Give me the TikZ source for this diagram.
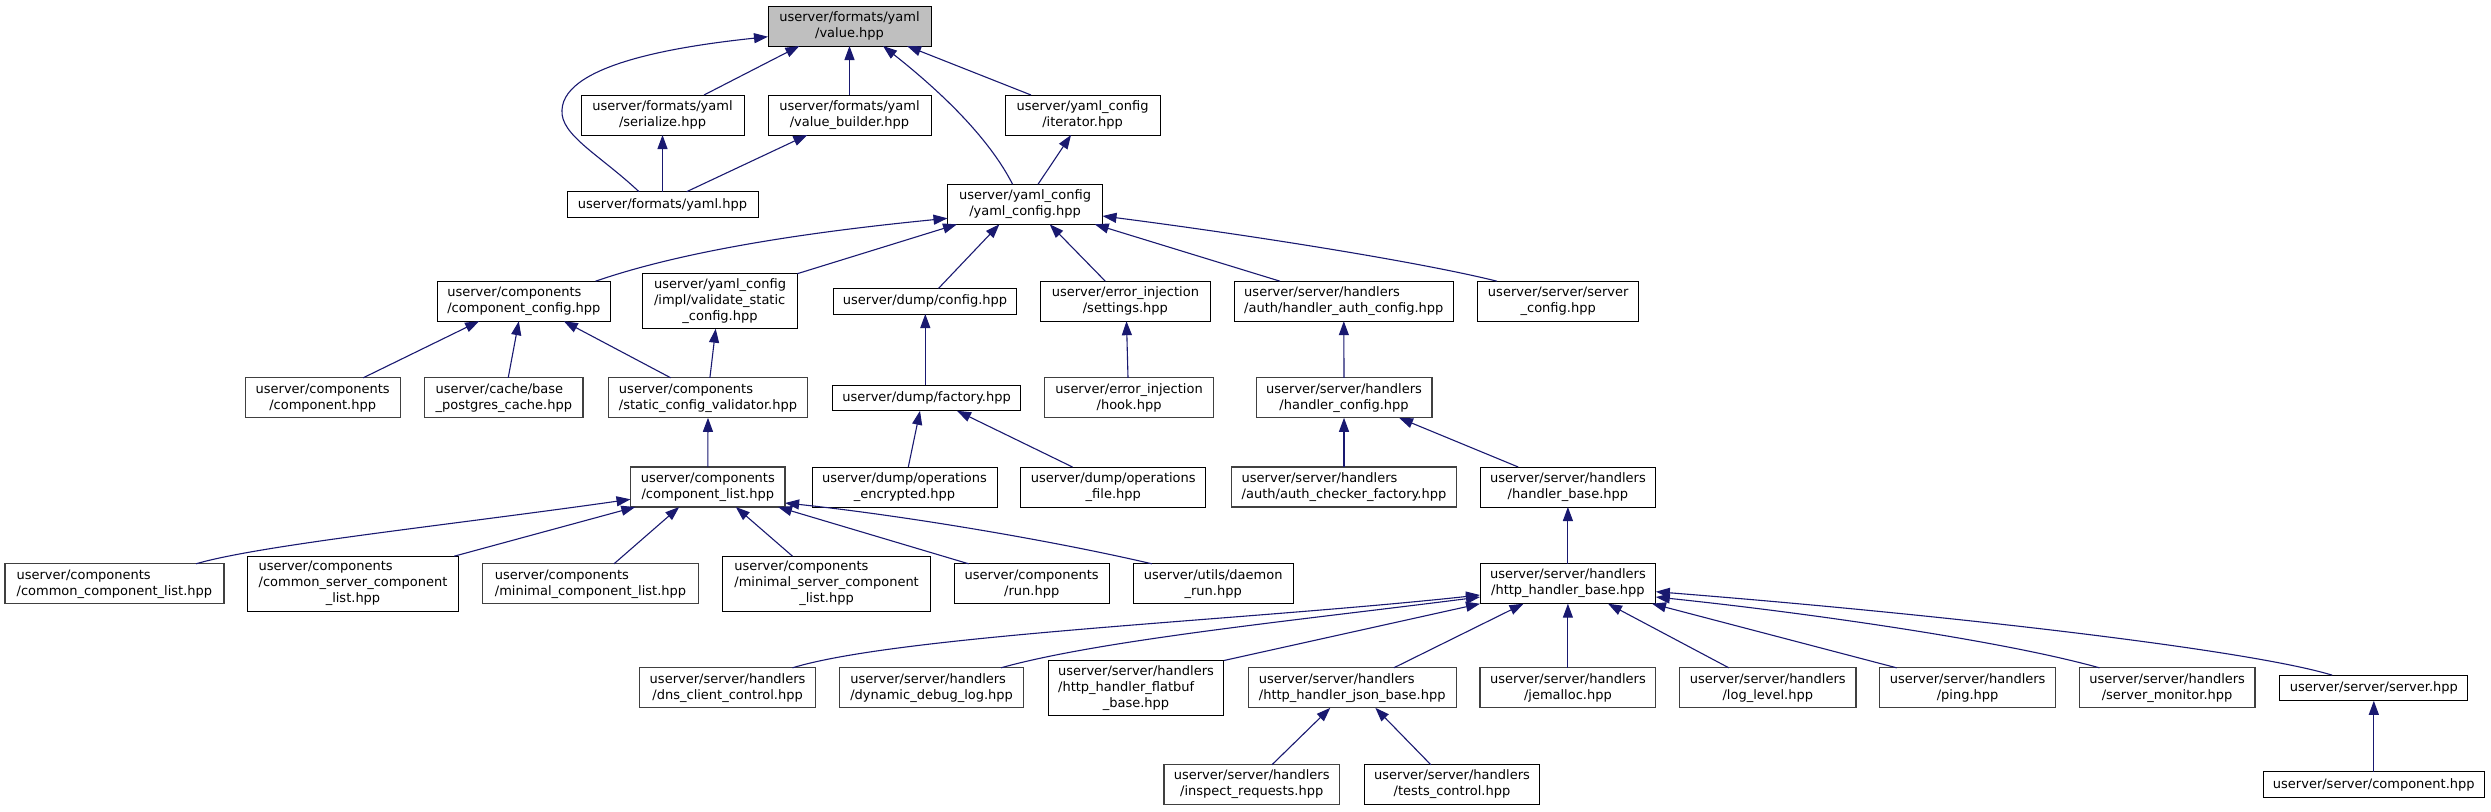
\documentclass[tikz,border=0pt]{standalone}
\usepackage{fontspec}
\setmainfont{DejaVu Sans}
\usetikzlibrary{arrows.meta}
\definecolor{edgeblue}{HTML}{191970}
\definecolor{nodegray}{HTML}{BFBFBF}
\definecolor{bordergray}{HTML}{404040}
\newcommand\one[1]{#1}
\newcommand\two[2]{\begin{tabular}{@{}l@{}}#1\\\multicolumn{1}{@{}c@{}}{#2}\end{tabular}}
\newcommand\three[3]{\begin{tabular}{@{}l@{}}#1\\#2\\\multicolumn{1}{@{}c@{}}{#3}\end{tabular}}
\newcommand\nd[7]{\node[box,#7,minimum width=#4pt,minimum height=#5pt] (#1) at (#2,#3) {#6};}
\tikzset{
  box/.style={draw=black, line width=1pt, fill=white, inner sep=0pt, outer sep=0pt,
    font=\fontsize{13}{16}\selectfont, anchor=center},
  gb/.style={draw=bordergray, line width=1.3pt},
  bb/.style={draw=black},
  root/.style={fill=nodegray},
  edge/.style={draw=edgeblue, line width=1.1pt, -{Triangle[length=14pt,width=10pt]}}
}
\begin{document}
\begin{tikzpicture}[x=1pt,y=-1pt]
\useasboundingbox (0,0) rectangle (2491,811);
% rank 0
\nd{value}{849.5}{26}{163}{40}{\two{userver/formats/yaml}{/value.hpp}}{bb,root}
% rank 1
\nd{serialize}{662.5}{115}{163}{40}{\two{userver/formats/yaml}{/serialize.hpp}}{bb}
\nd{vbuilder}{849.5}{115}{163}{40}{\two{userver/formats/yaml}{/value\_builder.hpp}}{bb}
\nd{iterator}{1082.5}{115}{155}{40}{\two{userver/yaml\_config}{/iterator.hpp}}{bb}
% rank 2
\nd{yamlhpp}{662.5}{204.5}{191}{25.6}{\one{userver/formats/yaml.hpp}}{bb}
\nd{yamlcfg}{1025}{204.3}{155}{40}{\two{userver/yaml\_config}{/yaml\_config.hpp}}{bb}
% rank 3
\nd{compcfg}{523.9}{301.2}{173}{40}{\two{userver/components}{/component\_config.hpp}}{bb}
\nd{validate}{720}{301.2}{154.5}{55}{\three{userver/yaml\_config}{/impl/validate\_static}{\_config.hpp}}{bb}
\nd{dumpcfg}{925}{301.2}{182.6}{25.6}{\one{userver/dump/config.hpp}}{bb}
\nd{settings}{1125.4}{301.2}{169.4}{40}{\two{userver/error\_injection}{/settings.hpp}}{bb}
\nd{authcfg}{1343.8}{301.2}{218.6}{40}{\two{userver/server/handlers}{/auth/handler\_auth\_config.hpp}}{bb}
\nd{srvcfg}{1558.2}{301.2}{161.5}{40}{\two{userver/server/server}{\_config.hpp}}{bb}
% rank 4
\nd{component}{322.7}{397.8}{155}{40}{\two{userver/components}{/component.hpp}}{gb}
\nd{postgres}{503.8}{397.8}{158.3}{40}{\two{userver/cache/base}{\_postgres\_cache.hpp}}{gb}
\nd{scv}{708}{397.8}{199.5}{40}{\two{userver/components}{/static\_config\_validator.hpp}}{gb}
\nd{factory}{926.6}{398}{188}{25.6}{\one{userver/dump/factory.hpp}}{bb}
\nd{hook}{1129.1}{397.8}{169.4}{40}{\two{userver/error\_injection}{/hook.hpp}}{gb}
\nd{hcfg}{1344}{397.8}{175.7}{40}{\two{userver/server/handlers}{/handler\_config.hpp}}{gb}
% rank 5
\nd{complist}{707.8}{487}{154.6}{40}{\two{userver/components}{/component\_list.hpp}}{gb}
\nd{openc}{904.5}{487}{185}{40}{\two{userver/dump/operations}{\_encrypted.hpp}}{bb}
\nd{ofile}{1113.3}{487}{185.3}{40}{\two{userver/dump/operations}{\_file.hpp}}{bb}
\nd{authchk}{1344}{487}{224.5}{40}{\two{userver/server/handlers}{/auth/auth\_checker\_factory.hpp}}{gb}
\nd{hbase}{1567.9}{487}{175.8}{40}{\two{userver/server/handlers}{/handler\_base.hpp}}{bb}
% rank 6
\nd{ccl}{114.4}{583.8}{219.1}{40}{\two{userver/components}{/common\_component\_list.hpp}}{gb}
\nd{cscl}{353}{583.7}{210.7}{55}{\three{userver/components}{/common\_server\_component}{\_list.hpp}}{bb}
\nd{mcl}{590.5}{583.8}{215.5}{40}{\two{userver/components}{/minimal\_component\_list.hpp}}{gb}
\nd{mscl}{826.6}{583.7}{208}{55}{\three{userver/components}{/minimal\_server\_component}{\_list.hpp}}{bb}
\nd{run}{1031.7}{583.8}{154.6}{40}{\two{userver/components}{/run.hpp}}{bb}
\nd{drun}{1213.2}{583.8}{160}{40}{\two{userver/utils/daemon}{\_run.hpp}}{bb}
\nd{hhb}{1567.9}{583.7}{175.8}{40}{\two{userver/server/handlers}{/http\_handler\_base.hpp}}{bb}
% rank 7
\nd{dns}{727.6}{687.8}{176.3}{40}{\two{userver/server/handlers}{/dns\_client\_control.hpp}}{gb}
\nd{ddl}{931.6}{687.8}{184.3}{40}{\two{userver/server/handlers}{/dynamic\_debug\_log.hpp}}{gb}
\nd{flat}{1136}{688}{175.8}{55}{\three{userver/server/handlers}{/http\_handler\_flatbuf}{\_base.hpp}}{bb}
\nd{json}{1352.2}{687.8}{208}{40}{\two{userver/server/handlers}{/http\_handler\_json\_base.hpp}}{gb}
\nd{jem}{1567.9}{687.8}{175.8}{40}{\two{userver/server/handlers}{/jemalloc.hpp}}{gb}
\nd{loglvl}{1767.8}{687.8}{176.3}{40}{\two{userver/server/handlers}{/log\_level.hpp}}{gb}
\nd{ping}{1967.6}{687.8}{175.8}{40}{\two{userver/server/handlers}{/ping.hpp}}{gb}
\nd{smon}{2167.1}{687.8}{175.7}{40}{\two{userver/server/handlers}{/server\_monitor.hpp}}{gb}
\nd{server}{2373.8}{688}{188}{25.6}{\one{userver/server/server.hpp}}{bb}
% rank 8
\nd{inspect}{1251.7}{784.7}{175.3}{40}{\two{userver/server/handlers}{/inspect\_requests.hpp}}{gb}
\nd{tests}{1452}{784.7}{175.8}{40}{\two{userver/server/handlers}{/tests\_control.hpp}}{bb}
\nd{scomp}{2373.8}{784.7}{220.7}{25.6}{\one{userver/server/component.hpp}}{bb}

% ---- edges ----
\draw[edge] (704,0 |- serialize.north) -- (799.4,0 |- value.south);
\draw[edge] (vbuilder.north) -- (value.south);
\draw[edge] (1031,0 |- iterator.north) -- (907,0 |- value.south);
\draw[edge] (1012.6,0 |- yamlcfg.north) .. controls (990,140) and (945,95) .. (883,0 |- value.south);
\draw[edge] (639,0 |- yamlhpp.north) .. controls (600,155) and (560,135) .. (562,110)
   .. controls (564,62) and (690,45) .. (value.west |- 0,36.7);
\draw[edge] (yamlhpp.north) -- (serialize.south);
\draw[edge] (686.6,0 |- yamlhpp.north) -- (807.3,0 |- vbuilder.south);
\draw[edge] (1038,0 |- yamlcfg.north) -- (1071,0 |- iterator.south);

\draw[edge] (595.6,0 |- compcfg.north) .. controls (700,245) and (850,228) .. (yamlcfg.west |- 0,218.3);
\draw[edge] (validate.north east) -- (957,0 |- yamlcfg.south);
\draw[edge] (938.5,0 |- dumpcfg.north) -- (999.4,0 |- yamlcfg.south);
\draw[edge] (1105.3,0 |- settings.north) -- (1049.7,0 |- yamlcfg.south);
\draw[edge] (1280,0 |- authcfg.north) -- (1094.7,0 |- yamlcfg.south);
\draw[edge] (1497,0 |- srvcfg.north) .. controls (1420,262) and (1250,235) .. (yamlcfg.east |- 0,216);

\draw[edge] (363.2,0 |- component.north) -- (479.1,0 |- compcfg.south);
\draw[edge] (508.2,0 |- postgres.north) -- (518.8,0 |- compcfg.south);
\draw[edge] (670.7,0 |- scv.north) -- (563.8,0 |- compcfg.south);
\draw[edge] (709.9,0 |- scv.north) -- (715.7,0 |- validate.south);
\draw[edge] (925.3,0 |- factory.north) -- (925.3,0 |- dumpcfg.south);
\draw[edge] (1128,0 |- hook.north) -- (1126.5,0 |- settings.south);
\draw[edge] (hcfg.north) -- (authcfg.south);

\draw[edge] (complist.north) -- (scv.south);
\draw[edge] (908.3,0 |- openc.north) -- (920,0 |- factory.south);
\draw[edge] (1072.5,0 |- ofile.north) -- (957,0 |- factory.south);
\draw[edge] (authchk.north) -- (hcfg.south);
\draw[edge] (1518.2,0 |- hbase.north) -- (1399,0 |- hcfg.south);

\draw[edge] (196,0 |- ccl.north) .. controls (260,545) and (450,525) .. (complist.west |- 0,499.3);
\draw[edge] (454.2,0 |- cscl.north) -- (635.3,0 |- complist.south);
\draw[edge] (614,0 |- mcl.north) -- (679.2,0 |- complist.south);
\draw[edge] (792.5,0 |- mscl.north) -- (735.8,0 |- complist.south);
\draw[edge] (968.7,0 |- run.north) -- (778,0 |- complist.south);
\draw[edge] (1151.9,0 |- drun.north) .. controls (1050,540) and (900,515) .. (complist.east |- 0,503);
\draw[edge] (hhb.north) -- (hbase.south);

\draw[edge] (792.5,0 |- dns.north) .. controls (900,635) and (1250,620) .. (hhb.west |- 0,595);
\draw[edge] (1001,0 |- ddl.north) .. controls (1100,640) and (1300,620) .. (hhb.west |- 0,597);
\draw[edge] (flat.north east) -- (hhb.south west);
\draw[edge] (1393.8,0 |- json.north) -- (1523.5,0 |- hhb.south);
\draw[edge] (jem.north) -- (hhb.south);
\draw[edge] (1728.8,0 |- loglvl.north) -- (1608,0 |- hhb.south);
\draw[edge] (1896.6,0 |- ping.north) -- (1652,0 |- hhb.south);
\draw[edge] (2099.4,0 |- smon.north) .. controls (2000,640) and (1800,612) .. (hhb.east |- 0,597);
\draw[edge] (2332.3,0 |- server.north) .. controls (2250,650) and (1950,615) .. (hhb.east |- 0,591.7);

\draw[edge] (1272,0 |- inspect.north) -- (1330.3,0 |- json.south);
\draw[edge] (1430.8,0 |- tests.north) -- (1375.3,0 |- json.south);
\draw[edge] (scomp.north) -- (server.south);
\end{tikzpicture}
\end{document}
